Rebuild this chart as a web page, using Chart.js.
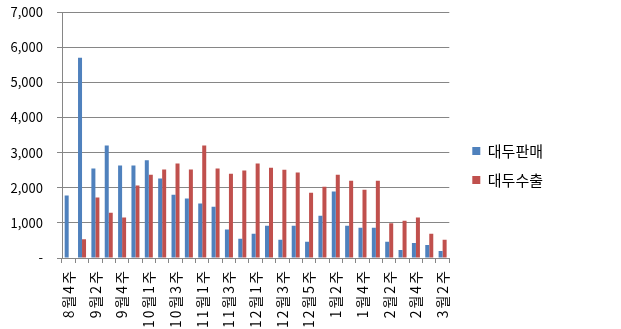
<!DOCTYPE html>
<html lang="ko">
<head>
<meta charset="utf-8">
<script src="https://cdn.jsdelivr.net/npm/chart.js@4.4.1/dist/chart.umd.min.js"></script>
<style>
  html, body { margin: 0; padding: 0; background: #fff; }
  #wrap { position: relative; width: 621px; height: 329px; }
</style>
</head>
<body>
<div id="wrap"><canvas id="chart"></canvas></div>
<script>
// 주차별 카테고리
const weeks = [
  '8월4주', '9월1주', '9월2주', '9월3주', '9월4주', '9월5주',
  '10월1주', '10월2주', '10월3주', '10월4주',
  '11월1주', '11월2주', '11월3주', '11월4주',
  '12월1주', '12월2주', '12월3주', '12월4주', '12월5주',
  '1월1주', '1월2주', '1월3주', '1월4주',
  '2월1주', '2월2주', '2월3주', '2월4주',
  '3월1주', '3월2주'
];

// 대두판매
const salesValues = [
  1780, 5700, 2550, 3200, 2630, 2630, 2780, 2260, 1800, 1690,
  1550, 1460, 810, 550, 690, 920, 520, 920, 460, 1200,
  1890, 920, 860, 860, 460, 230, 430, 370, 200
];

// 대두수출
const exportValues = [
  0, 530, 1720, 1290, 1150, 2060, 2370, 2520, 2690, 2520,
  3200, 2550, 2400, 2490, 2690, 2570, 2510, 2430, 1860, 2030,
  2370, 2200, 1940, 2200, 990, 1060, 1150, 690, 520
];

const seriesNames = ['대두판매', '대두수출'];
const yMin = 0, yMax = 7000, yStep = 1000;

const FONT = "'Malgun Gothic', 'Noto Sans CJK KR', sans-serif";
const GRID = '#868686';

// 범례를 차트에서 조금 떨어뜨림
const legendShift = {
  id: 'legendShift',
  afterLayout(chart) {
    const lg = chart.legend;
    if (!lg) return;
    lg.left += 9;
    lg.right += 9;
    lg.top -= 5;
    lg.bottom -= 5;
  }
};

// 가로축 라벨 자간 (엑셀 세로 글자처럼)
const xLabelSpacing = {
  id: 'xLabelSpacing',
  beforeDraw(chart) {
    const s = chart.scales.x;
    if (!s || s._spaced) return;
    const orig = s.drawLabels.bind(s);
    s.drawLabels = function (area) {
      const c = this.ctx;
      c.save();
      c.letterSpacing = '2px';
      orig(area);
      c.restore();
    };
    s._spaced = true;
  }
};

const ctx = document.getElementById('chart').getContext('2d');
new Chart(ctx, {
  type: 'bar',
  data: {
    labels: weeks,
    datasets: [
      { label: seriesNames[0], data: salesValues,  backgroundColor: '#4F81BD', borderWidth: 0 },
      { label: seriesNames[1], data: exportValues, backgroundColor: '#C0504D', borderWidth: 0 }
    ]
  },
  plugins: [legendShift, xLabelSpacing],
  options: {
    responsive: true,
    maintainAspectRatio: false,
    animation: false,
    layout: { padding: { top: 12, right: 77, left: 0, bottom: 0 } },
    datasets: { bar: { categoryPercentage: 0.6, barPercentage: 1.0 } },
    plugins: {
      tooltip: { enabled: false },
      legend: {
        position: 'right',
        labels: {
          boxWidth: 8,
          boxHeight: 8,
          padding: 14,
          color: '#000',
          font: { family: FONT, size: 15 }
        }
      }
    },
    scales: {
      x: {
        offset: true,
        grid: {
          offset: true,
          drawOnChartArea: false,
          drawTicks: true,
          tickLength: 5,
          color: GRID
        },
        border: { color: GRID, width: 1 },
        ticks: {
          autoSkip: false,
          maxRotation: 90,
          minRotation: 90,
          padding: 6,
          color: '#000',
          font: { family: FONT, size: 14 },
          callback(value, index) {
            return index % 2 === 0 ? this.getLabelForValue(value) : '';
          }
        },
        afterFit(scale) {
          scale.height = 71;
          scale.paddingLeft = 0;
          scale.paddingRight = 0;
        }
      },
      y: {
        min: yMin,
        max: yMax,
        grid: { color: GRID, tickLength: 5 },
        border: { color: GRID, width: 1 },
        ticks: {
          stepSize: yStep,
          padding: 14,
          color: '#000',
          font: { family: FONT, size: 13 },
          callback(v) { return v === 0 ? '-' : v.toLocaleString('en-US'); }
        },
        afterFit(scale) {
          scale.width = 62;
          scale.paddingTop = 0;
          scale.paddingBottom = 0;
        }
      }
    }
  }
});
</script>
</body>
</html>
